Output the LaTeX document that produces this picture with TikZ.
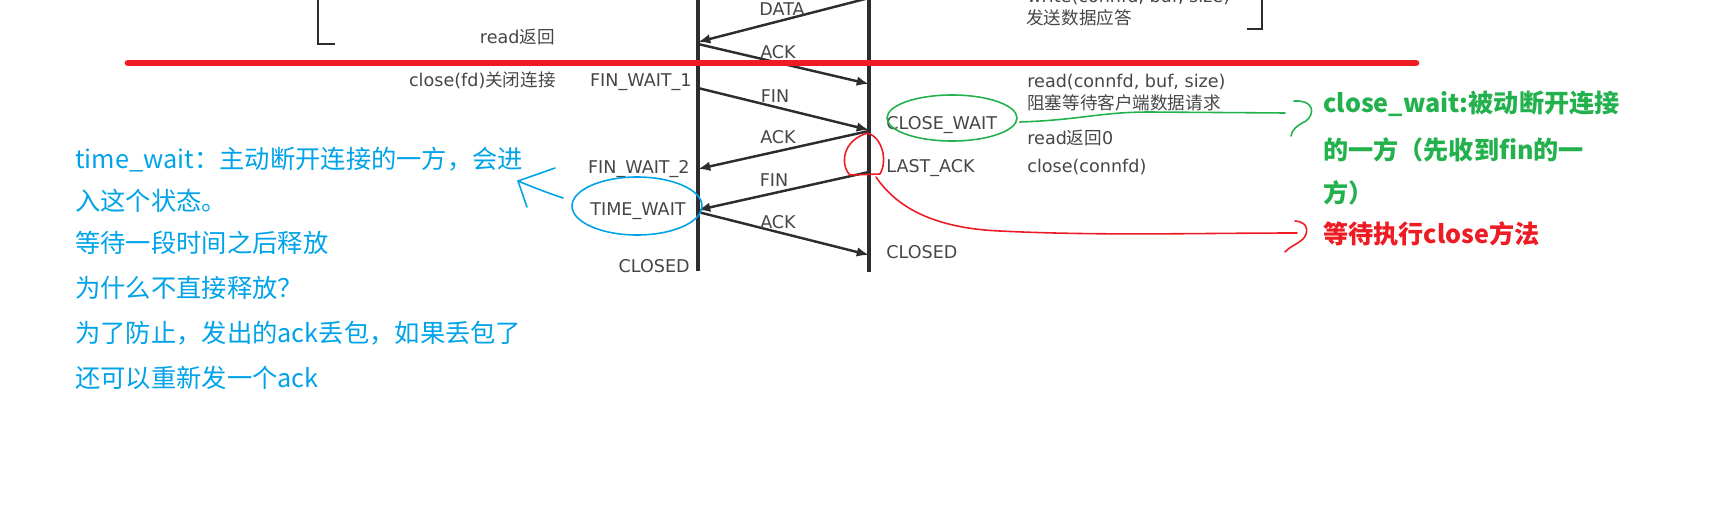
\documentclass[tikz,border=0pt]{standalone}
\usepackage{fontspec}
\setmainfont{DejaVu Sans}
\newfontfamily\cjk{Noto Sans CJK SC}
\usetikzlibrary{arrows.meta}
\definecolor{linegray}{RGB}{45,45,45}
\definecolor{textgray}{RGB}{70,70,70}
\definecolor{paintred}{RGB}{237,28,36}
\definecolor{paintgreen}{RGB}{34,177,76}
\definecolor{paintblue}{RGB}{0,162,232}

\begin{document}
\begin{tikzpicture}[x=0.02cm,y=-0.02cm,>={Latex[length=7pt,width=5.5pt]},
  lifeline/.style={linegray,line width=2pt},
  msg/.style={->,linegray,line width=1.4pt},
  lbl/.style={textgray,font=\fontsize{10}{12}\selectfont,inner sep=0pt},
  note/.style={font=\cjk\fontsize{14.4}{18}\selectfont,inner sep=0pt,anchor=base west},
  boldnote/.style={note,font=\cjk\bfseries\fontsize{14.3}{18}\selectfont},
  scribble/.style={line width=0.9pt,line join=round,line cap=round}]
  \useasboundingbox (0,0) rectangle (1728,524);
  % Lebenslinien Client / Server
  \coordinate (ctop) at (698,-6); \coordinate (cbot) at (698,271);
  \coordinate (stop) at (869,-6); \coordinate (sbot) at (869,272);
  \draw[lifeline] (ctop) -- (cbot);
  \draw[lifeline] (stop) -- (sbot);
  % Klammern vom Datenaustausch (oben abgeschnitten)
  \draw[lifeline,line width=1.6pt] (318,-6) |- (335,44);
  \draw[lifeline,line width=1.6pt] (1262,-6) |- (1247,29);
  % Punkte auf den Lebenslinien
  \coordinate (s0) at (869,-2);  \coordinate (c1) at (698,42);
  \coordinate (c2) at (698,44);  \coordinate (s2) at (869,84);
  \coordinate (c3) at (698,88);  \coordinate (s3) at (869,130);
  \coordinate (s4) at (869,131); \coordinate (c4) at (698,169);
  \coordinate (s5) at (869,172); \coordinate (c5) at (698,210);
  \coordinate (c6) at (698,212); \coordinate (s6) at (869,255);
  % Nachrichten
  \draw[msg] (s0) -- (c1);
  \draw[msg] (c2) -- (s2);
  \draw[msg] (c3) -- (s3);
  \draw[msg] (s4) -- (c4);
  \draw[msg] (s5) -- (c5);
  \draw[msg] (c6) -- (s6);
  \node[lbl,anchor=base] (mdata) at (782,15.5){DATA};
  \node[lbl,anchor=base] (mack1) at (778,58.5){ACK};
  \node[lbl,anchor=base] (mfin1) at (775,102.5){FIN};
  \node[lbl,anchor=base] (mack2) at (778,143.5){ACK};
  \node[lbl,anchor=base] (mfin2) at (774,186.5){FIN};
  \node[lbl,anchor=base] (mack3) at (778,228.5){ACK};
  % Zustaende Client
  \node[lbl,anchor=base east] (rdret) at (555,43.5){read{\cjk 返回}};
  \node[lbl,anchor=base east] (clfd) at (556,86.5){close(fd){\cjk 关闭连接}};
  \node[lbl,anchor=base east] (fw1) at (692,86.5){FIN\_WAIT\_1};
  \node[lbl,anchor=base east] (fw2) at (690,173.5){FIN\_WAIT\_2};
  \node[lbl,anchor=base east] (tw) at (686,215.5){TIME\_WAIT};
  \node[lbl,anchor=base east] (cclosed) at (690,272.5){CLOSED};
  % Zustaende Server
  \node[lbl,anchor=base west] (cw) at (886,129.5){CLOSE\_WAIT};
  \node[lbl,anchor=base west] (lack) at (886,172.5){LAST\_ACK};
  \node[lbl,anchor=base west] (sclosed) at (886,258.5){CLOSED};
  \node[lbl,anchor=base west] (wr) at (1027,2.5){write(connfd, buf, size)};
  \node[lbl,anchor=base west] (wrans) at (1026,24.5){\cjk 发送数据应答};
  \node[lbl,anchor=base west] (rd) at (1027,87.5){read(connfd, buf, size)};
  \node[lbl,anchor=base west] (rdwait) at (1027,109.5){\cjk 阻塞等待客户端数据请求};
  \node[lbl,anchor=base west] (rd0) at (1027,144.5){read{\cjk 返回}0};
  \node[lbl,anchor=base west] (clcfd) at (1027,172.5){close(connfd)};
  % Trennlinie
  \draw[paintred,line width=3.8pt,line cap=round] (128,63) -- (1416,63);
  % Anmerkung CLOSE_WAIT (gruen)
  \draw[paintgreen,scribble] (952,118) ellipse [x radius=65,y radius=23];
  \draw[paintgreen,scribble] (1020,122) .. controls (1080,120) and (1100,112) .. (1150,112) -- (1285,113);
  \draw[paintgreen,scribble] (1294,101) .. controls (1316,100) and (1314,115) .. (1306,121) .. controls (1296,126) and (1292,130) .. (1291,136);
  \node[boldnote,paintgreen] (gn1) at (1323,112){close\_wait:被动断开连接};
  \node[boldnote,paintgreen] (gn2) at (1323,159){的一方（先收到fin的一};
  \node[boldnote,paintgreen] (gn3) at (1323,202){方）};
  % Anmerkung LAST_ACK (rot)
  \draw[paintred,scribble] (868,133) .. controls (882,138) and (888,160) .. (880,174) -- (850,175) .. controls (840,165) and (842,140) .. (868,133);
  \draw[paintred,scribble] (876,177) .. controls (895,205) and (930,228) .. (1000,231) .. controls (1100,236) and (1200,233) .. (1297,233);
  \draw[paintred,scribble] (1295,221) .. controls (1310,222) and (1308,234) .. (1303,239) .. controls (1296,245) and (1289,247) .. (1285,252);
  \node[boldnote,paintred] (rn1) at (1323,243){等待执行close方法};
  % Anmerkung TIME_WAIT (blau)
  \draw[paintblue,scribble] (637,206) ellipse [x radius=65,y radius=29];
  \draw[paintblue,scribble] (563,198) .. controls (545,192) and (530,186) .. (518,181) -- (555,168);
  \draw[paintblue,scribble] (518,181) -- (527,207);
  \node[note,paintblue] (bn1) at (75,168){time\_wait：主动断开连接的一方，会进};
  \node[note,paintblue] (bn2) at (75,210){入这个状态。};
  \node[note,paintblue] (bn3) at (75,252){等待一段时间之后释放};
  \node[note,paintblue] (bn4) at (75,297){为什么不直接释放？};
  \node[note,paintblue] (bn5) at (75,342){为了防止，发出的ack丢包，如果丢包了};
  \node[note,paintblue] (bn6) at (75,387){还可以重新发一个ack};
\end{tikzpicture}
\end{document}
